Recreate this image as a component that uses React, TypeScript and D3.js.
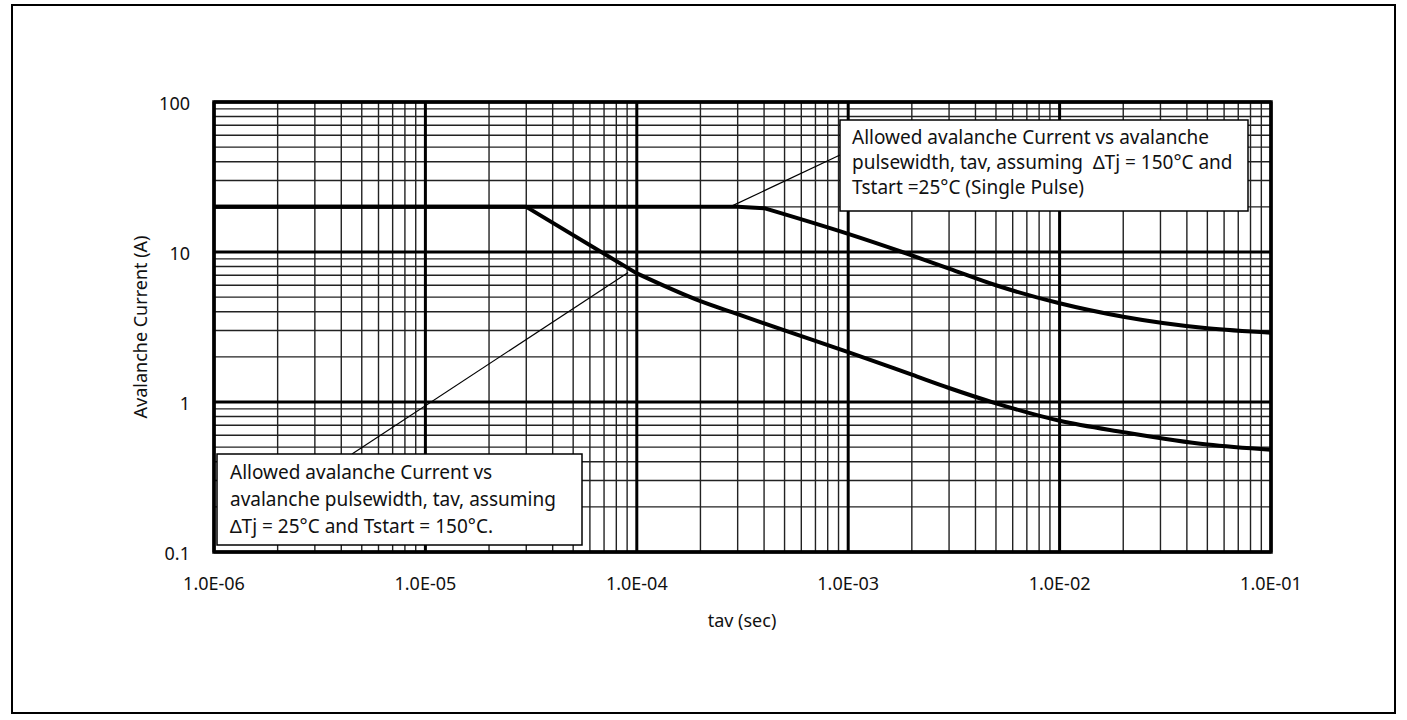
import React from "react";
import * as d3 from "d3";

const W = 1407;
const H = 720;

// Data
const xTickValues = [1e-6, 1e-5, 1e-4, 1e-3, 1e-2, 1e-1];
const xTickLabels = ["1.0E-06", "1.0E-05", "1.0E-04", "1.0E-03", "1.0E-02", "1.0E-01"];
const yTickValues = [0.1, 1, 10, 100];
const yTickLabels = ["0.1", "1", "10", "100"];

// Allowed avalanche current, ΔTj = 150°C, Tstart = 25°C
const upperTav = [1e-6, 3e-4, 4e-4, 1e-3, 1.8e-3, 3e-3, 5e-3, 1e-2, 2e-2, 5e-2, 1e-1];
const upperI = [20, 20, 19.6, 13.2, 10, 7.75, 6.0, 4.55, 3.7, 3.1, 2.9];
const upperKinks = 3; // first points joined by straight segments

// Allowed avalanche current, ΔTj = 25°C, Tstart = 150°C
const lowerTav = [1e-6, 3e-5, 1e-4, 2e-4, 3e-4, 5e-4, 1e-3, 2e-3, 3e-3, 5e-3, 1e-2, 2e-2, 5e-2, 1e-1];
const lowerI = [20, 20, 7.2, 4.7, 3.85, 3.0, 2.15, 1.52, 1.24, 0.98, 0.75, 0.63, 0.52, 0.48];
const lowerKinks = 3;

const upperNote = [
  "Allowed avalanche Current vs avalanche",
  "pulsewidth, tav, assuming  \u2206Tj = 150\u00b0C and",
  "Tstart =25\u00b0C (Single Pulse)",
];
const lowerNote = [
  "Allowed avalanche Current vs",
  "avalanche pulsewidth, tav, assuming",
  "\u2206Tj = 25\u00b0C and Tstart = 150\u00b0C.",
];
// leader anchor points on the curves (data coords)
const upperAnchor = { tav: 2.76e-4, i: 20 };
const lowerAnchor = { tav: 9.1e-5, i: 7.3 };

const FONT = "'Noto Sans', sans-serif";

export default function App() {
  const left = 214, right = 1271, top = 102, bottom = 552;
  const x = d3.scaleLog().domain([1e-6, 1e-1]).range([left, right]);
  const y = d3.scaleLog().domain([0.1, 100]).range([bottom, top]);

  const minorX: number[] = [];
  for (let e = -6; e < -1; e++) for (let m = 2; m <= 9; m++) minorX.push(m * Math.pow(10, e));
  const minorY: number[] = [];
  for (let e = -1; e < 2; e++) for (let m = 2; m <= 9; m++) minorY.push(m * Math.pow(10, e));

  const linLine = d3
    .line<[number, number]>()
    .x((d) => x(d[0]))
    .y((d) => y(d[1]));
  const smoothLine = d3
    .line<[number, number]>()
    .x((d) => x(d[0]))
    .y((d) => y(d[1]))
    .curve(d3.curveMonotoneX);

  const buildPath = (ts: number[], vs: number[], k: number) => {
    const pts = ts.map((t, i) => [t, vs[i]] as [number, number]);
    const a = linLine(pts.slice(0, k)) || "";
    const b = (smoothLine(pts.slice(k - 1)) || "").replace(/^M/, "L");
    return a + b;
  };

  const ub = { x: 840, y: 120, w: 408, h: 91 };
  const lb = { x: 217, y: 454, w: 365, h: 91 };

  return (
    <svg
      width={W}
      height={H}
      style={{ position: "absolute", left: 0, top: 0, background: "#fff" }}
      fontFamily={FONT}
    >
      <rect x={0} y={0} width={W} height={H} fill="#fff" />
      <rect x={12} y={5} width={1383} height={708} fill="none" stroke="#000" strokeWidth={2} />

      {/* minor grid */}
      {minorX.map((v, i) => (
        <line key={"mx" + i} x1={x(v)} x2={x(v)} y1={top} y2={bottom} stroke="#222" strokeWidth={1.4} />
      ))}
      {minorY.map((v, i) => (
        <line key={"my" + i} x1={left} x2={right} y1={y(v)} y2={y(v)} stroke="#222" strokeWidth={1.4} />
      ))}
      {/* major grid */}
      {xTickValues.map((v, i) => (
        <line key={"Mx" + i} x1={x(v)} x2={x(v)} y1={top} y2={bottom} stroke="#000" strokeWidth={3} />
      ))}
      {yTickValues.map((v, i) => (
        <line key={"My" + i} x1={left} x2={right} y1={y(v)} y2={y(v)} stroke="#000" strokeWidth={3} />
      ))}
      <rect x={left} y={top} width={right - left} height={bottom - top} fill="none" stroke="#000" strokeWidth={3.5} />

      {/* curves */}
      <path d={buildPath(upperTav, upperI, upperKinks)} fill="none" stroke="#000" strokeWidth={4} strokeLinejoin="round" />
      <path d={buildPath(lowerTav, lowerI, lowerKinks)} fill="none" stroke="#000" strokeWidth={4} strokeLinejoin="round" />

      {/* tick labels */}
      {xTickValues.map((v, i) => (
        <text key={"xl" + i} x={x(v)} y={583} textAnchor="middle" dominantBaseline="central" fontSize={18} fill="#111">
          {xTickLabels[i]}
        </text>
      ))}
      {yTickValues.map((v, i) => (
        <text key={"yl" + i} x={190} y={y(v) + 1} textAnchor="end" dominantBaseline="central" fontSize={18} fill="#111">
          {yTickLabels[i]}
        </text>
      ))}

      {/* axis titles */}
      <text x={742} y={620} textAnchor="middle" dominantBaseline="central" fontSize={18} fill="#111">
        tav (sec)
      </text>
      <text
        transform={`translate(140,${(top + bottom) / 2}) rotate(-90)`}
        textAnchor="middle"
        dominantBaseline="central"
        fontSize={18}
        fill="#111"
      >
        Avalanche Current (A)
      </text>

      {/* leaders */}
      <line x1={x(upperAnchor.tav)} y1={y(upperAnchor.i)} x2={ub.x} y2={155} stroke="#000" strokeWidth={1.2} />
      <line x1={x(lowerAnchor.tav)} y1={y(lowerAnchor.i)} x2={352} y2={lb.y} stroke="#000" strokeWidth={1.2} />

      {/* annotation boxes */}
      <rect x={ub.x} y={ub.y} width={ub.w} height={ub.h} fill="#fff" stroke="#000" strokeWidth={1.5} />
      {upperNote.map((s, i) => (
        <text key={"un" + i} x={852} y={137 + i * 25} dominantBaseline="central" fontSize={19} fill="#111" style={{ whiteSpace: "pre" }}>
          {s}
        </text>
      ))}
      <rect x={lb.x} y={lb.y} width={lb.w} height={lb.h} fill="#fff" stroke="#000" strokeWidth={1.5} />
      {lowerNote.map((s, i) => (
        <text key={"ln" + i} x={230} y={472 + i * 27} dominantBaseline="central" fontSize={19} fill="#111" style={{ whiteSpace: "pre" }}>
          {s}
        </text>
      ))}
    </svg>
  );
}
